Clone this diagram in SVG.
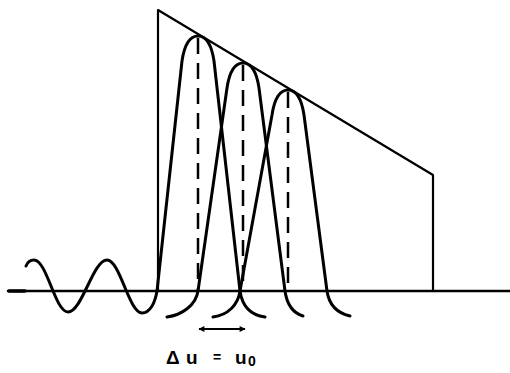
<svg xmlns="http://www.w3.org/2000/svg" width="510" height="373" viewBox="0 0 510 373">
<style>
.ln{fill:none;stroke:#000;stroke-linecap:round;stroke-linejoin:round}
.pulse{stroke-width:3}
.dash{fill:none;stroke:#000;stroke-width:2.5;stroke-dasharray:16 9}
.lbl{font-family:"Liberation Sans",Arial,sans-serif;font-weight:bold;fill:#000}
</style>
<defs>
<marker id="ah" viewBox="0 0 10 10" refX="9" refY="5" markerWidth="8" markerHeight="6" orient="auto-start-reverse" markerUnits="userSpaceOnUse">
<path d="M0,0 L10,5 L0,10 Z" fill="#000"/>
</marker>
</defs>
<rect width="510" height="373" fill="#fff"/>
<g id="axis">
<line class="ln" x1="8" y1="291" x2="510" y2="291" stroke-width="2.5"/>
<line class="ln" x1="9" y1="291" x2="25" y2="291" stroke-width="3.5"/>
</g>
<g id="envelope">
<path class="ln" d="M158,291 L158,10 L433,175 L433,291" stroke-width="2.2"/>
</g>
<g id="pulse1">
<path class="ln pulse" d="M26,266 C28,261 31,260 34,260 C47,260 55,312 68,312 C82,312 93,260 107,260 C120,260 129,313 142,313 C150,313 155,303 157,291 L182,61 C185,41 191,36 198,36 C205,36 211,41 214,61 L240,291 C242,305 250,315 265,317"/>
<line class="dash" x1="198" y1="38" x2="198" y2="291"/>
</g>
<g id="pulse2">
<path class="ln pulse" d="M167,317 C182,315 196,305 198,291 L227,88 C230,68 236,63 243,63 C250,63 256,68 259,88 L285,291 C287,305 293,313 303,316"/>
<line class="dash" x1="243" y1="65" x2="243" y2="291"/>
</g>
<g id="pulse3">
<path class="ln pulse" d="M213,317 C228,315 238,305 240,291 L272,115 C275,95 281,90 288,90 C295,90 301,95 304,115 L327,291 C329,305 337,313 350,316"/>
<line class="dash" x1="288" y1="92" x2="288" y2="291"/>
</g>
<g id="connectors">
<line x1="199" y1="329" x2="245" y2="329" stroke="#000" stroke-width="2" marker-start="url(#ah)" marker-end="url(#ah)"/>
</g>
<g id="label">
<text class="lbl" y="364" font-size="19"><tspan x="166">Δ</tspan><tspan x="186">u</tspan><tspan x="213" font-size="14" dy="-2">=</tspan><tspan x="235" dy="2">u</tspan><tspan x="248" dy="2" font-size="14">0</tspan></text>
</g>
</svg>
